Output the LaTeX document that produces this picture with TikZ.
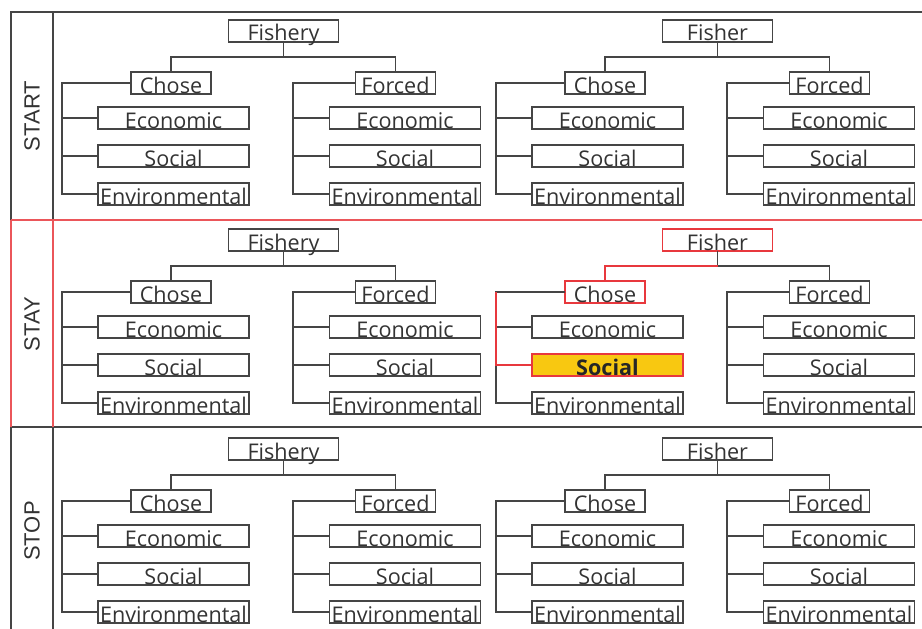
\documentclass[tikz,border=0pt]{standalone}
\usepackage{fontspec}
\setmainfont{Open Sans}
\newfontfamily\sidefont{Liberation Sans}
\usetikzlibrary{calc}

\definecolor{ink}{HTML}{454545}
\definecolor{txt}{HTML}{333333}
\definecolor{hot}{HTML}{E8383D}
\definecolor{gold}{HTML}{F8C811}

\tikzset{
  box/.style={draw=ink, line width=1.4pt, inner sep=0pt, outer sep=0pt,
    minimum height=22pt, text height=21pt, text depth=1pt,
    font=\fontsize{21.6}{21.6}\selectfont, text=txt},
  topbox/.style={box, minimum width=110pt},
  midbox/.style={box, minimum width=80pt},
  subbox/.style={box, minimum width=151pt},
  wire/.style={draw=ink, line width=1.4pt},
  hotwire/.style={draw=hot, line width=1.4pt},
  frame/.style={draw=ink, line width=1.8pt},
  hotframe/.style={draw=hot!85!white, line width=1.8pt},
  side/.style={rotate=90, font=\sidefont\fontsize{22}{22}\selectfont, text=txt},
  % per-tree extras: only Stay / Fisher carries the highlighted path
  pick-00/.style={}, pick-01/.style={}, pick-10/.style={},
  pick-20/.style={}, pick-21/.style={},
  pick-11/.style={draw=hot},
  chosen-00/.style={}, chosen-01/.style={}, chosen-10/.style={},
  chosen-20/.style={}, chosen-21/.style={},
  chosen-11/.style={fill=gold, draw=hot, line width=2.4pt,
    font=\fontsize{21.6}{21.6}\selectfont\bfseries, text=black!85},
}

\begin{document}
\begin{tikzpicture}[x=1pt, y=-1pt]
\useasboundingbox (0,0) rectangle (922,629);

% grid of the three stages
\draw[frame] (11,629) -- (11,12) -- (922,12);
\draw[frame] (53,629) -- (53,12);
\draw[frame] (11,427) -- (922,427);
\draw[hotframe] (11,220) -- (922,220);
\draw[hotframe] (11,220) -- (11,427);
\draw[hotframe] (53,220) -- (53,427);

\node[side] (lstart) at (32,116) {START};
\node[side] (lstay)  at (32,324) {STAY};
\node[side] (lstop)  at (32,531) {STOP};

% one tree per stage and level
\foreach \r/\oy in {0/20, 1/229, 2/438} {
  \foreach \t/\ox/\lbl in {0/0/Fishery, 1/434/Fisher} {
    \coordinate (j-\r-\t) at ({\ox+283.5},{\oy+37});
    \coordinate (bc-\r-\t) at ({\ox+62},{\oy+63});
    \coordinate (bf-\r-\t) at ({\ox+293},{\oy+63});

    \node[topbox, pick-\r\t] (top-\r-\t) at ({\ox+283.5},{\oy+11}) {\lbl};
    \node[midbox, pick-\r\t] (ch-\r-\t) at ({\ox+171},{\oy+63}) {Chose};
    \node[midbox] (fo-\r-\t) at ({\ox+395.5},{\oy+63}) {Forced};

    % Chose branch
    \node[subbox] (ce-\r-\t) at ({\ox+173.5},{\oy+98}) {Economic};
    \node[subbox, chosen-\r\t] (cs-\r-\t) at ({\ox+173.5},{\oy+136}) {Social};
    \node[subbox] (cv-\r-\t) at ({\ox+173.5},{\oy+174}) {Environmental};
    % Forced branch
    \node[subbox] (fe-\r-\t) at ({\ox+405},{\oy+98}) {Economic};
    \node[subbox] (fs-\r-\t) at ({\ox+405},{\oy+136}) {Social};
    \node[subbox] (fv-\r-\t) at ({\ox+405},{\oy+174}) {Environmental};

    \draw[wire] (top-\r-\t.south) -- (j-\r-\t);
    \draw[wire] (ch-\r-\t.north) |- (j-\r-\t) -| (fo-\r-\t.north);

    \draw[wire] (ch-\r-\t.west) -- (bc-\r-\t) |- (cv-\r-\t.west);
    \draw[wire] (ce-\r-\t.west) -- (ce-\r-\t.west -| bc-\r-\t);
    \draw[wire] (cs-\r-\t.west) -- (cs-\r-\t.west -| bc-\r-\t);

    \draw[wire] (fo-\r-\t.west) -- (bf-\r-\t) |- (fv-\r-\t.west);
    \draw[wire] (fe-\r-\t.west) -- (fe-\r-\t.west -| bf-\r-\t);
    \draw[wire] (fs-\r-\t.west) -- (fs-\r-\t.west -| bf-\r-\t);
  }
}

% highlighted path: Stay / Fisher / Chose / Social
\draw[hotwire] (ch-1-1.north) |- (j-1-1);
\draw[hotwire] (bc-1-1) -- (cs-1-1.west -| bc-1-1) -- (cs-1-1.west);
\end{tikzpicture}
\end{document}
